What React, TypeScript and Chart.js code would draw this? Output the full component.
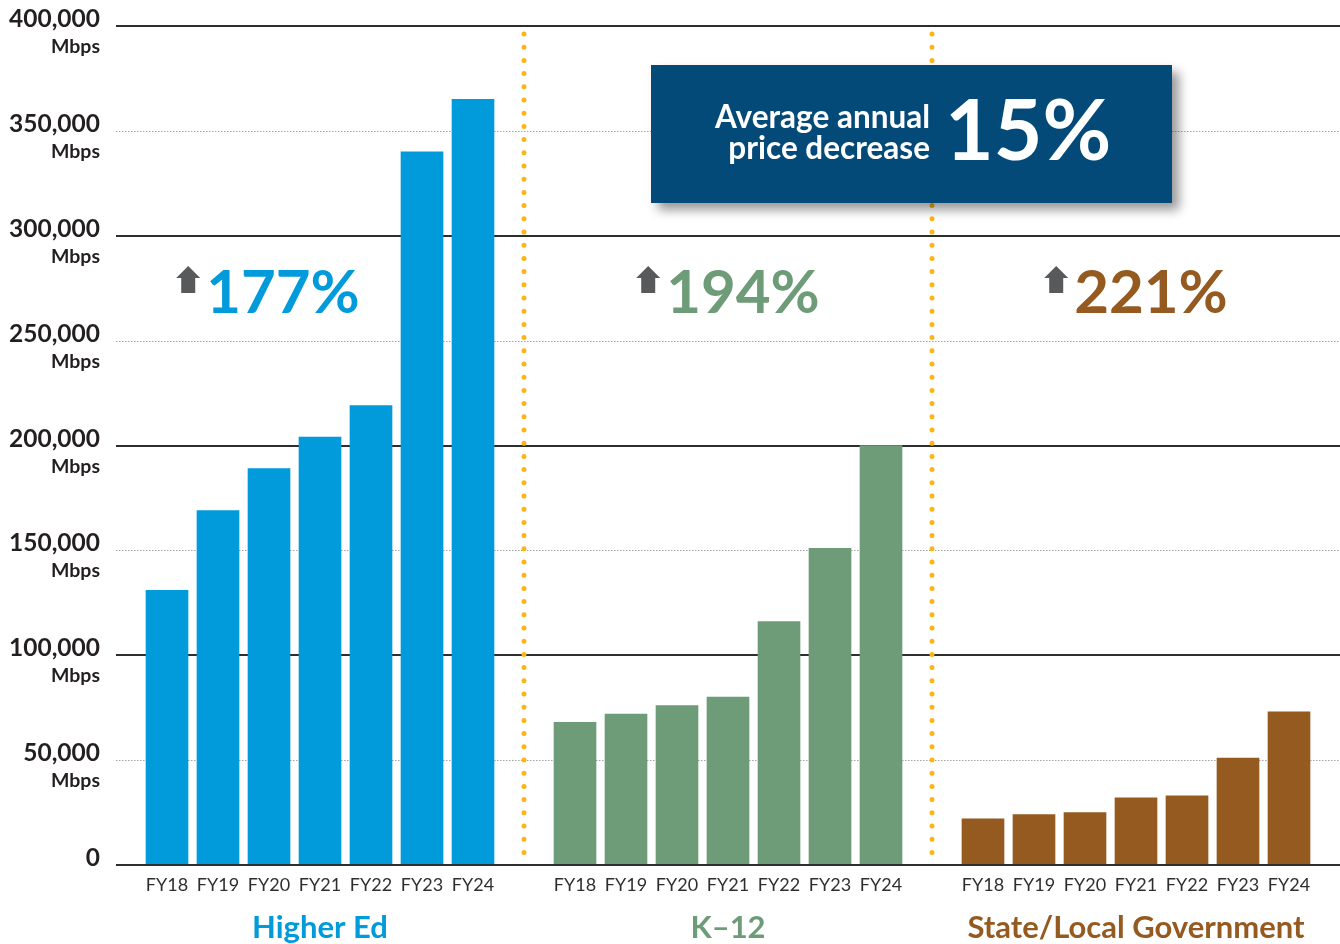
import React, { useEffect, useRef } from "react";
import { Chart, registerables } from "chart.js";

Chart.register(...registerables);

const fiscalYears = ["FY18", "FY19", "FY20", "FY21", "FY22", "FY23", "FY24"];
const higherEd = [131000, 169000, 189000, 204000, 219000, 340000, 365000];
const k12 = [68000, 72000, 76000, 80000, 116000, 151000, 200000];
const stateLocal = [22000, 24000, 25000, 32000, 33000, 51000, 73000];
const groupNames = ["Higher Ed", "K\u201312", "State/Local Government"];
const groupGrowth = ["177%", "194%", "221%"];
const yTicks = [0, 50000, 100000, 150000, 200000, 250000, 300000, 350000, 400000];
const yUnit = "Mbps";
const boxLines = ["Average annual", "price decrease"];
const boxValue = "15%";

const FONT = "Lato, 'Source Sans Pro', 'Noto Sans', sans-serif";
const groupColors = ["#019BDB", "#6E9C79", "#945A20"];
const groupStarts = [1, 9, 17];

const labels: string[] = ["", ...fiscalYears, "", ...fiscalYears, "", ...fiscalYears, ""];
const pad = (arr: number[], start: number) =>
  labels.map((_, i) => (i >= start && i < start + arr.length ? arr[i - start] : null));

const decor = {
  id: "decor",
  beforeDatasetsDraw(chart: any) {
    const { ctx, chartArea, scales } = chart;
    const y = scales.y;
    ctx.save();
    yTicks.forEach((v) => {
      const py = Math.round(y.getPixelForValue(v));
      ctx.beginPath();
      if (v % 100000 === 0) {
        ctx.strokeStyle = "#2e2e2e";
        ctx.lineWidth = 2;
        ctx.setLineDash([]);
        ctx.moveTo(chartArea.left, py);
        ctx.lineTo(chartArea.right, py);
      } else {
        ctx.strokeStyle = "#a3a3a3";
        ctx.lineWidth = 1;
        ctx.setLineDash([1.5, 1.5]);
        ctx.moveTo(chartArea.left, py + 0.5);
        ctx.lineTo(chartArea.right, py + 0.5);
      }
      ctx.stroke();
    });
    ctx.restore();
  },
  afterDatasetsDraw(chart: any) {
    const { ctx, chartArea, scales } = chart;
    const x = scales.x;
    const y = scales.y;
    ctx.save();
    const p0 = Math.round(y.getPixelForValue(0));
    ctx.strokeStyle = "#2e2e2e";
    ctx.lineWidth = 2;
    ctx.beginPath();
    ctx.moveTo(chartArea.left, p0);
    ctx.lineTo(chartArea.right, p0);
    ctx.stroke();

    ctx.fillStyle = "#2f2f2f";
    ctx.textAlign = "center";
    ctx.textBaseline = "alphabetic";
    ctx.font = `18px ${FONT}`;
    labels.forEach((lab, i) => {
      if (lab) ctx.fillText(lab, x.getPixelForValue(i), p0 + 26);
    });

    [8, 16].forEach((idx) => {
      const px = x.getPixelForValue(idx);
      ctx.strokeStyle = "#FDB515";
      ctx.lineWidth = 5;
      ctx.lineCap = "round";
      ctx.setLineDash([0, 13.2]);
      ctx.beginPath();
      ctx.moveTo(px, chartArea.top + 8);
      ctx.lineTo(px, chartArea.bottom - 4);
      ctx.stroke();
    });
    ctx.setLineDash([]);
    ctx.lineCap = "butt";

    ctx.fillStyle = "#231F20";
    ctx.textAlign = "right";
    yTicks.forEach((v) => {
      const py = y.getPixelForValue(v);
      ctx.font = `bold 24.5px ${FONT}`;
      ctx.fillText(v.toLocaleString("en-US"), chartArea.left - 16, py + 1);
      if (v !== 0) {
        ctx.font = `bold 19.5px ${FONT}`;
        ctx.fillText(yUnit, chartArea.left - 16, py + 27);
      }
    });

    const offsets = [-52, 0, 0];
    groupStarts.forEach((s, g) => {
      const center = (x.getPixelForValue(s) + x.getPixelForValue(s + 6)) / 2 + offsets[g];
      ctx.font = `bold 60px ${FONT}`;
      const tw = ctx.measureText(groupGrowth[g]).width;
      const aw = 24;
      const gap = 6;
      const startX = center - (aw + gap + tw) / 2;
      ctx.fillStyle = "#58595B";
      ctx.beginPath();
      ctx.moveTo(startX + aw / 2, 266);
      ctx.lineTo(startX + aw, 278);
      ctx.lineTo(startX + aw - 5, 278);
      ctx.lineTo(startX + aw - 5, 293);
      ctx.lineTo(startX + 5, 293);
      ctx.lineTo(startX + 5, 278);
      ctx.lineTo(startX, 278);
      ctx.closePath();
      ctx.fill();
      ctx.fillStyle = groupColors[g];
      ctx.textAlign = "left";
      ctx.fillText(groupGrowth[g], startX + aw + gap, 313);
    });

    groupStarts.forEach((s, g) => {
      const center = (x.getPixelForValue(s) + x.getPixelForValue(s + 6)) / 2;
      ctx.font = `bold 31px ${FONT}`;
      ctx.fillStyle = groupColors[g];
      ctx.textAlign = "center";
      ctx.fillText(groupNames[g], center, 938);
    });

    ctx.save();
    ctx.shadowColor = "rgba(0,0,0,0.4)";
    ctx.shadowBlur = 10;
    ctx.shadowOffsetX = 7;
    ctx.shadowOffsetY = 7;
    ctx.fillStyle = "#034A78";
    ctx.fillRect(651, 65, 521, 138);
    ctx.restore();
    ctx.fillStyle = "#FFFFFF";
    ctx.textAlign = "right";
    ctx.font = `bold 31.5px ${FONT}`;
    ctx.fillText(boxLines[0], 930, 128);
    ctx.fillText(boxLines[1], 930, 159);
    ctx.textAlign = "left";
    ctx.font = `bold 84px ${FONT}`;
    ctx.fillText(boxValue, 945, 160);
    ctx.restore();
  },
};

export default function App() {
  const ref = useRef<HTMLCanvasElement | null>(null);
  useEffect(() => {
    document.body.style.margin = "0";
    const canvas = ref.current;
    if (!canvas) return;
    const chart = new Chart(canvas, {
      type: "bar",
      data: {
        labels,
        datasets: [
          { data: pad(higherEd, groupStarts[0]), backgroundColor: groupColors[0], grouped: false, barThickness: 42 } as any,
          { data: pad(k12, groupStarts[1]), backgroundColor: groupColors[1], grouped: false, barThickness: 42 } as any,
          { data: pad(stateLocal, groupStarts[2]), backgroundColor: groupColors[2], grouped: false, barThickness: 42 } as any,
        ],
      },
      options: {
        animation: false,
        responsive: false,
        devicePixelRatio: 1,
        layout: { padding: { left: 116, right: 0, top: 26, bottom: 79 } },
        plugins: { legend: { display: false }, tooltip: { enabled: false } },
        scales: {
          x: {
            type: "category",
            offset: false,
            grid: { display: false, drawTicks: false, tickLength: 0 },
            border: { display: false },
            ticks: { display: false, autoSkip: false, padding: 0 },
          },
          y: {
            min: 0,
            max: 400000,
            ticks: { display: false, stepSize: 50000, padding: 0 },
            grid: { display: false, drawTicks: false, tickLength: 0 },
            border: { display: false },
          },
        },
      } as any,
      plugins: [decor],
    });
    return () => chart.destroy();
  }, []);
  return (
    <div style={{ width: 1340, height: 944 }}>
      <canvas ref={ref} width={1340} height={944} style={{ display: "block" }} />
    </div>
  );
}
